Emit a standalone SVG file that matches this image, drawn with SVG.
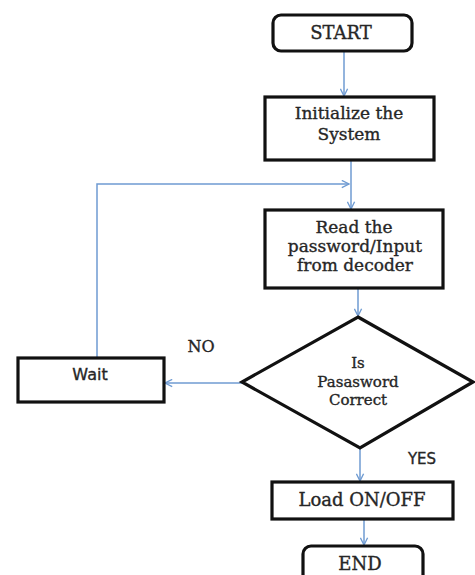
<svg xmlns="http://www.w3.org/2000/svg" width="475" height="575" viewBox="0 0 475 575">
<defs>
<style>
.box{fill:#ffffff;stroke:#111111;stroke-width:3.2}
.t{font-family:"DejaVu Serif","Liberation Serif",serif;fill:#262626;stroke:#262626;stroke-width:0.35;text-anchor:middle}
.s{font-family:"DejaVu Sans","Liberation Sans",sans-serif;fill:#262626;stroke:#262626;stroke-width:0.35;text-anchor:middle}
.c{fill:none;stroke:#6f9bd2;stroke-width:1.5}
</style>
<marker id="ah" viewBox="0 0 10 10" refX="9" refY="5" markerWidth="9" markerHeight="9" markerUnits="userSpaceOnUse" orient="auto">
<path d="M1,1 L9,5 L1,9" fill="none" stroke="#6f9bd2" stroke-width="1.5"/>
</marker>
</defs>
<rect width="475" height="575" fill="#ffffff"/>
<g id="connectors">
<path class="c" d="M344,51 V96" marker-end="url(#ah)"/>
<path class="c" d="M351,160 V209" marker-end="url(#ah)"/>
<path class="c" d="M97,358 V184 H349" marker-end="url(#ah)"/>
<path class="c" d="M358,288 V316" marker-end="url(#ah)"/>
<path class="c" d="M242,383 H165" marker-end="url(#ah)"/>
<path class="c" d="M360,448 V481" marker-end="url(#ah)"/>
<path class="c" d="M364,519 V545" marker-end="url(#ah)"/>
</g>
<g id="start">
<rect class="box" x="273" y="15" width="139" height="36" rx="8"/>
<text class="t" x="341" y="39" font-size="18">START</text>
</g>
<g id="init">
<rect class="box" x="265" y="97" width="169" height="63"/>
<text class="t" x="349" y="119" font-size="17">Initialize the</text>
<text class="t" x="349" y="140" font-size="17">System</text>
</g>
<g id="read">
<rect class="box" x="265" y="210" width="178" height="78"/>
<text class="t" x="354" y="233" font-size="17">Read the</text>
<text class="t" x="355" y="252" font-size="17">password/Input</text>
<text class="t" x="355" y="271" font-size="17">from decoder</text>
</g>
<g id="decision">
<polygon class="box" points="358,317 473,382 360,448 242,382"/>
<text class="t" x="358" y="368" font-size="15">Is</text>
<text class="t" x="358" y="387" font-size="15">Pasasword</text>
<text class="t" x="358" y="405" font-size="15">Correct</text>
</g>
<g id="wait">
<rect class="box" x="18" y="358" width="146" height="44"/>
<text class="s" x="90" y="380" font-size="16">Wait</text>
</g>
<g id="load">
<rect class="box" x="272" y="482" width="181" height="37"/>
<text class="t" x="362" y="506" font-size="18">Load ON/OFF</text>
</g>
<g id="end">
<rect class="box" x="303" y="546" width="120" height="40" rx="8"/>
<text class="t" x="360" y="570" font-size="18">END</text>
</g>
<g id="labels">
<text class="t" x="201" y="352" font-size="16">NO</text>
<text class="s" x="422" y="464" font-size="15">YES</text>
</g>
</svg>
